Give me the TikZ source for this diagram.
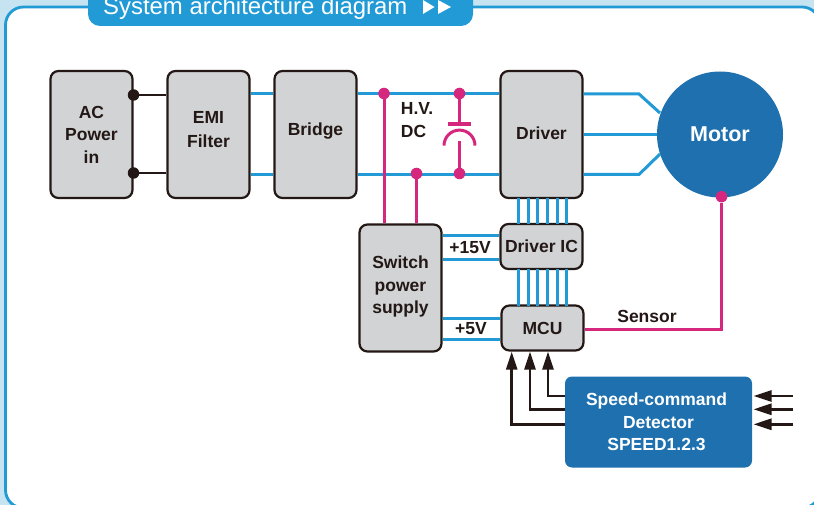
\documentclass[tikz,border=0pt]{standalone}
\usepackage{fontspec}
\setmainfont{Liberation Sans}
\usetikzlibrary{arrows.meta}
\definecolor{frameblue}{HTML}{219AD6}
\definecolor{outerblue}{HTML}{C5E3F1}
\definecolor{motorblue}{HTML}{1E70AF}
\definecolor{boxgray}{HTML}{D1D3D4}
\definecolor{inkdark}{HTML}{231815}
\definecolor{magentaline}{HTML}{D6277F}
\newcommand{\up}[2]{\raisebox{#1}{#2}}
\tikzset{x=1pt,y=-1pt,
 blk/.style={draw=inkdark,line width=2.2pt,fill=boxgray,rounded corners=8pt,inner sep=0pt,align=center,text=inkdark,font=\bfseries\fontsize{17.5}{22.5}\selectfont},
 bus/.style={draw=frameblue,line width=3pt},
 mag/.style={draw=magentaline,line width=3pt},
 blackline/.style={draw=inkdark,line width=2.6pt},
 magdot/.style={circle,fill=magentaline,inner sep=0pt,minimum size=11.5pt},
 blkdot/.style={circle,fill=inkdark,inner sep=0pt,minimum size=11.5pt},
 lab/.style={inner sep=0pt,align=center,text=inkdark,font=\bfseries\fontsize{17.5}{22.5}\selectfont},
 arr/.style={blackline,-{Triangle[length=18pt,width=11pt]}},
}
\begin{document}
\begin{tikzpicture}
\useasboundingbox (0,0) rectangle (814,505);
\fill[outerblue] (0,0) rectangle (814,505);
\draw[frameblue,line width=2.8pt,fill=white,rounded corners=18pt] (5.5,7) rectangle (820,508);
% boxes
\node[blk,minimum width=82pt,minimum height=127pt] (ac) at (91.5,134.5) {\up{-2pt}{AC}\\\up{-2pt}{Power}\\\up{-2pt}{in}};
\node[blk,minimum width=82pt,minimum height=127pt] (emi) at (208.5,134.5) {\up{10pt}{EMI}\\\up{10pt}{Filter}};
\node[blk,minimum width=82pt,minimum height=127pt] (bridge) at (315.5,134.5) {\up{10pt}{Bridge}};
\node[blk,minimum width=82pt,minimum height=127pt] (driver) at (541.5,134.5) {\up{3pt}{Driver}};
\node[blk,minimum width=82pt,minimum height=45pt] (dic) at (541.5,246.5) {\up{-3pt}{Driver IC}};
\node[blk,minimum width=82pt,minimum height=45pt] (mcu) at (542.5,328) {MCU};
\node[blk,minimum width=82pt,minimum height=127pt] (sps) at (400.5,288) {\up{6pt}{Switch}\\\up{6pt}{power}\\\up{6pt}{supply}};
\node[circle,fill=motorblue,minimum size=126pt,inner sep=0pt,text=white,font=\bfseries\fontsize{21.5}{24}\selectfont] (motor) at (720,134.5) {\up{-2pt}{Motor}};
\node[fill=motorblue,rounded corners=7pt,minimum width=187pt,minimum height=91pt,inner sep=0pt,align=center,text=white,font=\bfseries\fontsize{17.5}{22.5}\selectfont] (det) at (658.5,422) {Speed-command\hspace*{4pt}\\Detector\\SPEED1.2.3\hspace*{4pt}};
% black AC wires
\node[blkdot] (d1) at (133.5,95) {};
\node[blkdot] (d2) at (133.5,173) {};
\draw[blackline] (d1) -- (emi.west |- d1);
\draw[blackline] (d2) -- (emi.west |- d2);
% blue power rails
\draw[bus] (emi.east |- 0,94) -- (bridge.west |- 0,94);
\draw[bus] (emi.east |- 0,174.5) -- (bridge.west |- 0,174.5);
\draw[bus] (bridge.east |- 0,94) -- (driver.west |- 0,94);
\draw[bus] (bridge.east |- 0,174.5) -- (driver.west |- 0,174.5);
% driver to motor
\coordinate (m1) at (660,113);
\coordinate (m3) at (660,154);
\draw[bus] (driver.east |- 0,94) -- (639,94) -- (m1);
\draw[bus] (driver.east |- 0,134.5) -- (motor.west);
\draw[bus] (driver.east |- 0,174.5) -- (639,174.5) -- (m3);
% driver to driver IC, driver IC to MCU
\foreach \xx in {518.3,528,537.8,547.5,557.2,566.7}{
 \draw[bus] (\xx,198) -- (\xx,224);
 \draw[bus] (\xx,269) -- (\xx,305.5);
}
% supply rails
\draw[bus] (sps.east |- 0,236) -- (dic.west |- 0,236);
\draw[bus] (sps.east |- 0,259.3) -- (dic.west |- 0,259.3);
\draw[bus] (sps.east |- 0,318.3) -- (mcu.west |- 0,318.3);
\draw[bus] (sps.east |- 0,339.3) -- (mcu.west |- 0,339.3);
\node[lab] (v15) at (470,248) {+15V};
\node[lab] (v5) at (471,328.5) {+5V};
% magenta taps
\node[magdot] (t1) at (384,93.5) {};
\node[magdot] (t2) at (459.5,93.5) {};
\node[magdot] (t3) at (416.5,173.5) {};
\node[magdot] (t4) at (459.5,173.5) {};
\draw[mag] (t1) -- (t1 |- sps.north);
\draw[mag] (t3) -- (t3 |- sps.north);
% capacitor
\coordinate (capa) at (459.5,124);
\coordinate (capb) at (459.5,141);
\draw[mag] (t2) -- (capa);
\draw[mag] (t4) -- (capb);
\draw[line width=3.4pt,draw=magentaline] (448,124) -- (470.7,124);
\draw[mag] (444,145.6) arc[start angle=180,end angle=360,radius=15.5];
\node[lab,align=left,anchor=west] (hv) at (400.7,120) {H.V.\\DC};
% sensor
\node[magdot] (t5) at (721.5,196.7) {};
\draw[mag] (t5) -- (721.5,329) -- (mcu.east |- 0,329);
\node[lab] (sens) at (647,316) {Sensor};
% speed arrows
\coordinate (a1) at (548,396);
\coordinate (a2) at (530,409.3);
\coordinate (a3) at (511.7,424.3);
\draw[arr] (det.west |- a1) -- (a1) -- (a1 |- mcu.south);
\draw[arr] (det.west |- a2) -- (a2) -- (a2 |- mcu.south);
\draw[arr] (det.west |- a3) -- (a3) -- (a3 |- mcu.south);
\coordinate (i1) at (792.7,396);
\coordinate (i2) at (792.7,409.3);
\coordinate (i3) at (792.7,424.3);
\coordinate (o1) at (753.5,396);
\coordinate (o2) at (753.5,409.3);
\coordinate (o3) at (753.5,424.3);
\draw[arr] (i1) -- (o1);
\draw[arr] (i2) -- (o2);
\draw[arr] (i3) -- (o3);
% title
\fill[frameblue,rounded corners=12pt] (88,-20) rectangle (473,26);
\node[anchor=base west,inner sep=0pt,text=white,font=\fontsize{23.9}{26}\selectfont] (title) at (103,15) {System architecture diagram};
\fill[white] (423,0) -- (423,14) -- (434.5,7) -- cycle (438,0) -- (438,14) -- (451,7) -- cycle;
\end{tikzpicture}
\end{document}
